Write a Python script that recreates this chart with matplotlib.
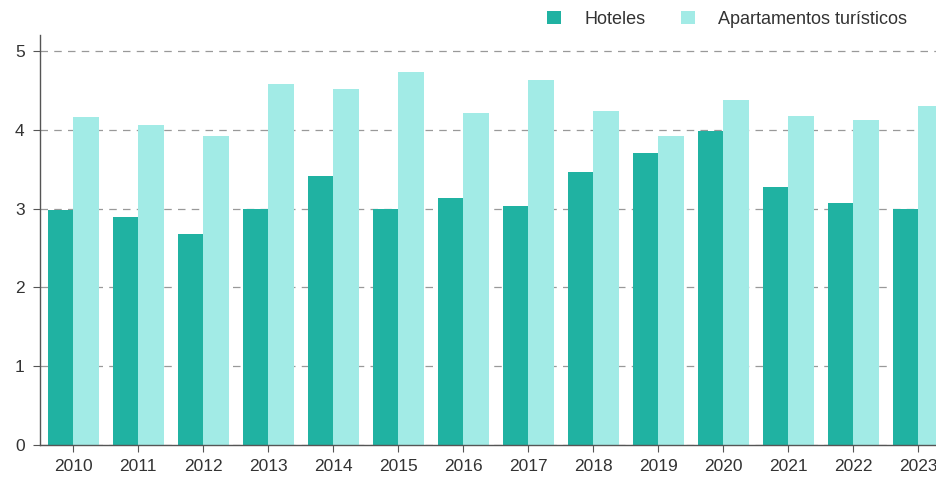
import matplotlib
matplotlib.use("Agg")
import matplotlib.pyplot as plt
import numpy as np

years = ["2010", "2011", "2012", "2013", "2014", "2015", "2016",
         "2017", "2018", "2019", "2020", "2021", "2022", "2023"]
hoteles = [2.98, 2.89, 2.68, 3.00, 3.41, 3.00, 3.14,
           3.03, 3.47, 3.71, 3.99, 3.28, 3.07, 3.00]
apartamentos = [4.16, 4.06, 3.92, 4.58, 4.52, 4.73, 4.21,
                4.63, 4.24, 3.92, 4.38, 4.17, 4.12, 4.30]
series_names = ["Hoteles", "Apartamentos turísticos"]
yticks = [0, 1, 2, 3, 4, 5]

plt.rcParams['font.family'] = ['Liberation Sans', 'DejaVu Sans']

fig = plt.figure(figsize=(9.37, 4.82), dpi=100)
ax = fig.add_axes([0.0427, 0.0768, 0.9573, 0.85])

x = np.arange(len(years))
w = 0.39
ax.bar(x - w / 2, hoteles, width=w, color="#20b2a2", label=series_names[0], zorder=2)
ax.bar(x + w / 2, apartamentos, width=w, color="#a2ebe6", label=series_names[1], zorder=2)

ax.set_xlim(-0.51, 13.29)
ax.set_ylim(0, 5.2)
ax.set_xticks(x)
ax.set_xticklabels(years)
ax.set_yticks(yticks)
ax.yaxis.grid(True, linestyle=(0, (6, 5)), color="#999999", linewidth=0.9, zorder=0)
ax.set_axisbelow(True)

for s in ["top", "right"]:
    ax.spines[s].set_visible(False)
for s in ["left", "bottom"]:
    ax.spines[s].set_color("#555555")
    ax.spines[s].set_linewidth(1.0)
ax.tick_params(axis="both", colors="#555555", labelcolor="#333333", labelsize=12.5, length=5)
ax.tick_params(axis="x", pad=5)
ax.tick_params(axis="y", pad=6)

leg = ax.legend(loc="lower right", bbox_to_anchor=(0.975, 1.0), ncol=2, frameon=False,
                fontsize=13, handlelength=0.75, handleheight=0.75, columnspacing=2.0,
                handletextpad=1.3, borderaxespad=0.0)
for t in leg.get_texts():
    t.set_color("#333333")

fig.savefig("out.png", dpi=100)
